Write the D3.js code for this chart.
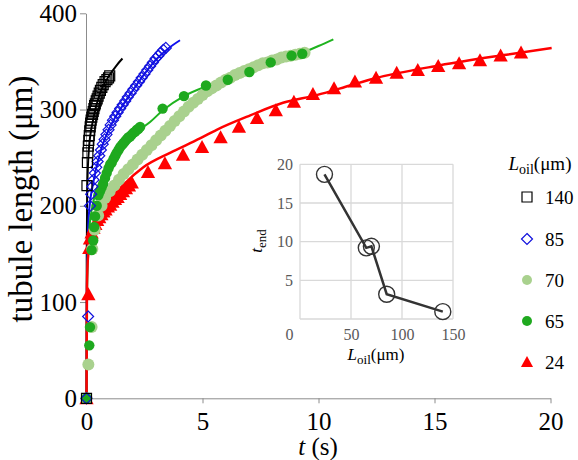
<!DOCTYPE html>
<html><head><meta charset="utf-8">
<script src="https://cdn.jsdelivr.net/npm/d3@7"></script>
<style>
body{margin:0;background:#fff;}
svg text, svg tspan{font-family:'Liberation Serif', serif !important;}
</style></head>
<body><svg id="c" width="578" height="460"></svg>
<script>
// ---- main chart data: t (s) and tubule length (µm) ----
const legendLabels = ["140", "85", "70", "65", "24"];
const xTicks = [0, 5, 10, 15, 20];
const yTicks = [0, 100, 200, 300, 400];

// L_oil = 24 (red triangles)
const t24 = [0, 0.08, 0.12, 0.15, 0.22, 0.3, 0.38, 0.46, 0.55, 0.64, 0.73, 0.82, 0.92, 1.02, 1.12, 1.23, 1.34, 1.45, 1.57, 1.7, 1.83, 1.95,
  2.65, 3.38, 4.16, 4.98, 5.78, 6.57, 7.35, 8.16, 8.94, 9.76, 10.67, 11.57, 12.48, 13.37, 14.28, 15.16, 16.06, 16.96, 17.85, 18.73];
const L24 = [0, 108, 156, 166, 172, 177, 181, 185, 188, 191, 194, 196, 199, 201, 204, 207, 209, 212, 215, 218, 221, 224,
  235, 244, 253, 261, 271, 282, 291, 299, 308, 316, 322, 329, 333, 338, 341, 345, 348, 351, 356, 359];
const fitT24 = [0, 0.01, 0.02, 0.06, 0.15, 0.37, 0.58, 1.01, 1.6, 2.45, 3.6, 4.89, 5.61, 7.06, 8.47, 9.92, 11.36, 12.36, 15.24, 18.1, 20.05];
const fitL24 = [0, 54, 116, 145, 158, 178, 189, 206, 222, 240, 255, 270, 279, 294, 307, 315, 325, 332, 346, 357, 364];

// L_oil = 65 (green circles)
const t65 = [0, 0.12, 0.15, 0.22, 0.29, 0.33, 0.37, 0.44, 0.51, 0.58, 0.65, 0.72, 0.8, 0.87, 0.95, 1.02, 1.09, 1.17, 1.24, 1.3, 1.38, 1.45, 1.52, 1.59, 1.66, 1.73, 1.8, 1.88, 1.95, 2.03, 2.1, 2.17, 2.24, 2.31,
  3.28, 4.2, 5.15, 6.09, 7.02, 7.94, 8.84, 9.3];
const L65 = [0, 55, 74, 154, 164, 178, 189, 200, 211, 215, 219, 223, 229, 234, 239, 243, 245, 249, 252, 255, 258, 261, 263, 265, 267, 269, 271, 272, 274, 276, 277, 279, 280, 282,
  301, 314, 325, 331, 339, 349, 356, 358];
const fitT65 = [0, 0.02, 0.1, 0.3, 0.6, 1.0, 1.5, 2.0, 2.74, 3.28, 4.2, 5.15, 6.1, 7.0, 8.0, 9.0, 10.0, 10.64];
const fitL65 = [0, 100, 170, 205, 225, 245, 262, 274, 287, 299, 314, 324, 332, 340, 348, 356, 366, 373];

// L_oil = 70 (light green circles)
const t70 = [0, 0.08, 0.22, 0.25, 0.35, 0.5, 0.65, 0.8, 1.0, 1.2, 1.4, 1.6, 1.8, 2.0, 2.2, 2.4, 2.6, 2.8, 3.0, 3.2, 3.4, 3.6, 3.8, 4.0, 4.2, 4.4, 4.6, 4.8, 5.0,
  5.2, 5.4, 5.6, 5.8, 6.0, 6.2, 6.4, 6.6, 6.8, 7.0, 7.2, 7.4, 7.6, 7.8, 8.0, 8.2, 8.4, 8.6, 8.8, 9.0, 9.2, 9.4];
const L70 = [0, 35, 74, 155, 175, 190, 200, 208, 215, 221, 227, 233, 238, 243, 248, 253, 258, 263, 268, 273, 278, 283, 288, 293, 298, 303, 307, 311, 315,
  319, 322, 325, 328, 331, 333, 336, 338, 340, 342, 344, 346, 348, 349, 351, 352, 354, 355, 356, 357, 358, 359];

// L_oil = 85 (blue diamonds)
const t85 = [0, 0.07, 0.15, 0.2, 0.25, 0.3, 0.36, 0.42, 0.48, 0.55, 0.62, 0.7, 0.78, 0.86, 0.95, 1.04, 1.14, 1.24, 1.34, 1.45, 1.56, 1.67, 1.78, 1.9, 2.02, 2.14, 2.26, 2.38, 2.5, 2.62, 2.74, 2.86, 2.98, 3.1, 3.2, 3.31, 3.42];
const L85 = [0, 85, 200, 212, 220, 227, 234, 240, 246, 252, 258, 264, 269, 274, 279, 284, 289, 293, 297, 301, 305, 309, 313, 317, 321, 325, 329, 333, 337, 341, 345, 349, 353, 356, 359, 362, 364];
const fitT85 = [0, 0.02, 0.1, 0.3, 0.6, 1.0, 1.5, 2.0, 2.5, 3.0, 3.5, 4.03];
const fitL85 = [0, 120, 190, 225, 256, 281, 302, 320, 337, 352, 363, 372];

// L_oil = 140 (black squares)
const t140 = [0, 0.02, 0.04, 0.06, 0.08, 0.1, 0.12, 0.14, 0.16, 0.18, 0.2, 0.23, 0.26, 0.29, 0.32, 0.35, 0.38, 0.42, 0.46, 0.5, 0.55, 0.6, 0.66, 0.72, 0.8, 0.88, 0.95, 1.0];
const L140 = [0, 221, 245, 255, 262, 268, 273, 278, 282, 286, 289, 292, 295, 298, 301, 304, 306, 309, 311, 314, 317, 320, 323, 326, 329, 331, 333, 335];
const fitT140 = [0, 0.01, 0.03, 0.1, 0.3, 0.6, 1.0, 1.3, 1.55];
const fitL140 = [0, 150, 215, 258, 291, 318, 336, 346, 353];

// ---- inset data ----
const insetLoil = [24, 65, 70, 85, 140];
const insetTend = [18.7, 9.2, 9.4, 3.2, 0.95];
const insetXTicks = [0, 50, 100, 150];
const insetYTicks = [0, 5, 10, 15, 20];

const SERIF = "Liberation Serif";
const svg = d3.select("#c");
const x = d3.scaleLinear().domain([0, 20]).range([86.5, 550.5]);
const y = d3.scaleLinear().domain([0, 400]).range([398.3, 13.3]);

const zip = (a, b) => a.map((v, i) => [v, b[i]]);
const line = d3.line().x(d => x(d[0])).y(d => y(d[1])).curve(d3.curveMonotoneX);

// axes
const gx = svg.append("g").attr("transform", `translate(0,${y(0)})`)
  .call(d3.axisBottom(x).tickValues(xTicks).tickSize(5).tickSizeOuter(0).tickFormat(d3.format("d")));
gx.attr("font-family", null);
gx.select(".domain").attr("stroke", "#8c8c8c");
gx.selectAll(".tick line").attr("stroke", "#8c8c8c");
gx.selectAll("text").attr("font-size", 25).attr("dy", "0.95em").attr("fill", "#000").style("font-family", SERIF);

const gy = svg.append("g").attr("transform", `translate(${x(0) - 0.5},0)`)
  .call(d3.axisLeft(y).tickValues(yTicks).tickSize(6).tickSizeOuter(0));
gy.attr("font-family", null);
gy.select(".domain").attr("stroke", "#8c8c8c");
gy.selectAll(".tick line").attr("stroke", "#8c8c8c");
gy.selectAll("text").attr("font-size", 25).attr("fill", "#000").attr("x", -9).style("font-family", SERIF);

// axis titles
svg.append("text").attr("transform", "translate(32,199) rotate(-90)")
  .attr("text-anchor", "middle").attr("font-size", 33).style("font-family", SERIF).text("tubule length (μm)");
const xt = svg.append("text").attr("x", 318).attr("y", 455).attr("text-anchor", "middle").attr("font-size", 25).style("font-family", SERIF);
xt.append("tspan").attr("font-style", "italic").text("t");
xt.append("tspan").text(" (s)");

// fit lines
const fits = [
  [fitT140, fitL140, "#000000", 2],
  [fitT85, fitL85, "#1010ee", 2],
  [fitT65, fitL65, "#1fb31f", 2],
  [fitT24, fitL24, "#ff0000", 2.5]
];
fits.forEach(f => {
  svg.append("path").datum(zip(f[0], f[1])).attr("d", line)
    .attr("fill", "none").attr("stroke", f[2]).attr("stroke-width", f[3]);
});

// marker shapes
const tri = s => `M0,${-s * 0.55}L${s * 0.55},${s * 0.45}L${-s * 0.55},${s * 0.45}Z`;
const dia = s => `M0,${-s}L${s},0L0,${s}L${-s},0Z`;
const sq = s => `M${-s},${-s}H${s}V${s}H${-s}Z`;

function drawMarkers(ts, Ls, kind, opts) {
  const g = svg.append("g");
  const data = zip(ts, Ls);
  if (kind === "circle") {
    g.selectAll("circle").data(data).join("circle")
      .attr("cx", d => x(d[0])).attr("cy", d => y(d[1])).attr("r", opts.r)
      .attr("fill", opts.fill).attr("stroke", opts.stroke || "none");
  } else {
    const p = kind === "tri" ? tri(opts.s) : kind === "dia" ? dia(opts.s) : sq(opts.s);
    g.selectAll("path").data(data).join("path")
      .attr("transform", d => `translate(${x(d[0])},${y(d[1])})`).attr("d", p)
      .attr("fill", opts.fill).attr("stroke", opts.stroke || "none").attr("stroke-width", opts.sw || 1);
  }
}
drawMarkers(t24, L24, "tri", { s: 13, fill: "#ff0000" });
drawMarkers(t70, L70, "circle", { r: 6, fill: "#a9d18e" });
drawMarkers(t65, L65, "circle", { r: 5.2, fill: "#1fa91f" });
drawMarkers(t85, L85, "dia", { s: 5.5, fill: "none", stroke: "#1010dd", sw: 1.2 });
drawMarkers(t140, L140, "sq", { s: 5, fill: "none", stroke: "#000", sw: 1.2 });

// ---- inset ----
const ix = d3.scaleLinear().domain([0, 150]).range([300, 453]);
const iy = d3.scaleLinear().domain([0, 20]).range([319, 164.3]);
const ig = svg.append("g");
ig.selectAll(".vg").data(insetXTicks).join("line")
  .attr("x1", d => ix(d)).attr("x2", d => ix(d)).attr("y1", iy(0)).attr("y2", iy(20))
  .attr("stroke", "#d9d9d9").attr("stroke-width", 1.3);
ig.selectAll(".hg").data(insetYTicks).join("line")
  .attr("y1", d => iy(d)).attr("y2", d => iy(d)).attr("x1", ix(0)).attr("x2", ix(150))
  .attr("stroke", "#d9d9d9").attr("stroke-width", 1.3);
const iax = ig.append("g").attr("transform", `translate(0,${iy(0)})`)
  .call(d3.axisBottom(ix).tickValues(insetXTicks).tickSize(0));
iax.attr("font-family", null);
iax.select(".domain").remove();
iax.selectAll("text").attr("font-size", 16).attr("fill", "#595959").attr("dy", "1.15em")
  .attr("dx", d => d === 0 ? -11 : 0).style("font-family", SERIF);
const iay = ig.append("g").attr("transform", `translate(${ix(0)},0)`)
  .call(d3.axisLeft(iy).tickValues(insetYTicks.filter(v => v > 0)).tickSize(0));
iay.attr("font-family", null);
iay.select(".domain").remove();
iay.selectAll("text").attr("font-size", 16).attr("fill", "#595959").attr("x", -7).style("font-family", SERIF);

const ilineData = zip(insetLoil, insetTend);
ig.append("path").datum(ilineData)
  .attr("d", d3.line().x(d => ix(d[0])).y(d => iy(d[1])))
  .attr("fill", "none").attr("stroke", "#333").attr("stroke-width", 2.5);
ig.selectAll("circle").data(ilineData).join("circle")
  .attr("cx", d => ix(d[0])).attr("cy", d => iy(d[1])).attr("r", 8)
  .attr("fill", "none").attr("stroke", "#333").attr("stroke-width", 1.4);

// inset titles
const ity = ig.append("text").attr("transform", "translate(262,241) rotate(-90)")
  .attr("text-anchor", "middle").attr("font-size", 17).attr("fill", "#000").style("font-family", SERIF);
ity.append("tspan").attr("font-style", "italic").text("t");
ity.append("tspan").attr("font-size", 13).attr("dy", 4).text("end");
const itx = ig.append("text").attr("x", 376).attr("y", 360).attr("text-anchor", "middle").attr("font-size", 17).style("font-family", SERIF);
itx.append("tspan").attr("font-style", "italic").text("L");
itx.append("tspan").attr("font-size", 13).attr("dy", 4).text("oil");
itx.append("tspan").attr("dy", -4).text("(μm)");

// ---- legend ----
const lg = svg.append("g");
const lt = lg.append("text").attr("x", 540).attr("y", 170).attr("text-anchor", "middle").attr("font-size", 19).style("font-family", SERIF);
lt.append("tspan").attr("font-style", "italic").text("L");
lt.append("tspan").attr("font-size", 14).attr("dy", 4).text("oil");
lt.append("tspan").attr("dy", -4).text("(μm)");
const legY = [197, 239, 280, 321, 362];
const legMarks = [
  { k: "sq", fill: "none", stroke: "#000" },
  { k: "dia", fill: "none", stroke: "#1010dd" },
  { k: "circle", fill: "#a9d18e" },
  { k: "circle", fill: "#1fa91f" },
  { k: "tri", fill: "#ff0000" }
];
legendLabels.forEach((lab, i) => {
  const m = legMarks[i], cx = 527, cy = legY[i];
  if (m.k === "circle") {
    lg.append("circle").attr("cx", cx).attr("cy", cy).attr("r", 5).attr("fill", m.fill);
  } else {
    const p = m.k === "sq" ? sq(5) : m.k === "dia" ? dia(5.5) : tri(11);
    lg.append("path").attr("transform", `translate(${cx},${cy})`).attr("d", p)
      .attr("fill", m.fill).attr("stroke", m.stroke || "none").attr("stroke-width", 1.2);
  }
  lg.append("text").attr("x", 545).attr("y", cy).attr("dy", "0.35em").attr("font-size", 19)
    .style("font-family", SERIF).text(lab);
});
</script></body></html>
